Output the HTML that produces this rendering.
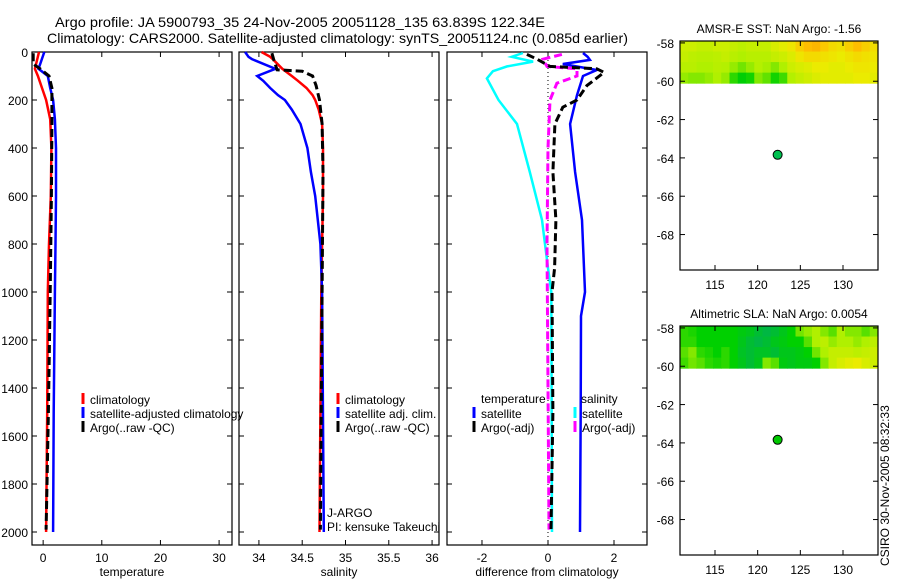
<!DOCTYPE html>
<html><head><meta charset="utf-8"><style>
body{margin:0;background:#fff;}
svg{display:block;font-family:"Liberation Sans",sans-serif;}
text{font-size:12px;fill:#000;}
</style></head><body>
<svg id="fig" width="900" height="580" viewBox="0 0 900 580">
<text x="55" y="27" textLength="490" lengthAdjust="spacingAndGlyphs" style="font-size:14px">Argo profile: JA 5900793_35 24-Nov-2005 20051128_135 63.839S 122.34E</text>
<text x="47" y="43" textLength="581" lengthAdjust="spacingAndGlyphs" style="font-size:14px">Climatology: CARS2000. Satellite-adjusted climatology: synTS_20051124.nc (0.085d earlier)</text>
<g id="plots"></g>
<text transform="translate(889,566) rotate(-90)" style="font-size:12px">CSIRO 30-Nov-2005 08:32:33</text>
</svg>
<script>
// ---- data ----
const tDepth=[0,50,70,100,150,200,280,400,600,800,1000,1500,2000];
const tClim=[-0.7,-1.2,-1.4,-0.9,-0.2,0.5,1.2,1.4,1.3,1.0,0.8,0.7,0.5];
const tSat=[0.2,-0.5,-0.8,0.8,1.2,1.7,2.0,2.2,2.2,2.1,2.0,1.8,1.7];
const aDepth=[5,50,70,100,150,300,600,1000,1500,1990];
const tArgo=[-1.7,-1.7,-0.5,1.0,1.5,1.5,1.4,1.2,0.9,0.5];
const sDepth=[0,20,30,70,100,120,150,180,200,240,300,400,500,600,800,1000,2000];
const sClim=[34.03,34.13,34.16,34.27,34.38,34.45,34.55,34.62,34.65,34.69,34.73,34.74,34.74,34.74,34.73,34.72,34.70];
const sSat=[33.84,33.88,33.92,34.19,33.98,34.05,34.13,34.22,34.30,34.38,34.48,34.56,34.60,34.65,34.71,34.73,34.75];
const saDepth=[5,30,74,80,100,140,200,300,500,1000,1990];
const sArgo=[34.15,34.17,34.21,34.50,34.62,34.66,34.70,34.73,34.74,34.73,34.71];
const dDepth=[4,20,33,50,75,100,180,300,500,700,1000,1100,1500,2000];
const dTSat=[1.06,1.2,1.27,0.45,1.48,1.06,0.88,0.67,0.82,1.03,1.12,1.0,0.99,0.97];
const cDepth=[4,20,40,60,80,110,200,300,500,700,900,1000,2000];
const dSSat=[-0.76,-1.1,-0.45,-1.24,-1.67,-1.85,-1.5,-0.94,-0.55,-0.18,0,0.1,0.12];
const eDepth=[10,30,60,70,85,140,200,230,300,500,700,900,1000,1500,1990];
const dTArgo=[-0.64,-0.33,0.06,1.48,1.7,1.18,0.88,0.45,0.21,0.15,0.24,0.2,0.12,0.15,0.09];
const mDepth=[10,30,60,70,100,130,200,400,800,1990];
const dSArgo=[0.42,-0.15,-0.03,0.88,0.88,0.27,0.06,0,-0.03,0.03];
const sstRows=[
[0.52,0.52,0.5,0.5,0.52,0.52,0.5,0.48,0.5,0.5,0.5,0.55,0.58,0.62,0.7,0.76,0.78,0.72,0.66,0.64,0.7,0.76,0.7,0.65],
[0.5,0.48,0.47,0.47,0.48,0.5,0.47,0.45,0.47,0.47,0.47,0.5,0.52,0.56,0.62,0.66,0.66,0.64,0.62,0.6,0.63,0.66,0.64,0.62],
[0.47,0.47,0.45,0.45,0.47,0.46,0.42,0.38,0.42,0.46,0.44,0.4,0.45,0.52,0.55,0.57,0.6,0.6,0.58,0.58,0.6,0.62,0.62,0.6],
[0.42,0.4,0.4,0.42,0.45,0.42,0.3,0.24,0.27,0.4,0.36,0.27,0.32,0.46,0.5,0.53,0.56,0.58,0.58,0.58,0.58,0.6,0.6,0.58]];
const slaRows=[
[0.3,0.28,0.25,0.25,0.25,0.25,0.25,0.22,0.2,0.15,0.12,0.15,0.2,0.25,0.38,0.42,0.45,0.4,0.35,0.45,0.4,0.4,0.35,0.4],
[0.3,0.3,0.25,0.25,0.25,0.25,0.25,0.2,0.15,0.12,0.15,0.2,0.22,0.25,0.25,0.35,0.45,0.48,0.42,0.45,0.45,0.42,0.45,0.48],
[0.35,0.4,0.3,0.28,0.25,0.3,0.25,0.18,0.15,0.18,0.18,0.15,0.2,0.2,0.22,0.25,0.38,0.45,0.5,0.5,0.5,0.48,0.5,0.52],
[0.32,0.38,0.35,0.3,0.28,0.3,0.25,0.2,0.15,0.2,0.4,0.35,0.22,0.2,0.22,0.22,0.25,0.4,0.5,0.55,0.58,0.6,0.55,0.52]];
const lonTicks=[115,120,125,130];
const latTicks=[-58,-60,-62,-64,-66,-68];
const argoLon=122.34, argoLat=-63.839;

const NS='http://www.w3.org/2000/svg';
const root=document.getElementById('plots');
function mk(tag,attrs,parent){const e=document.createElementNS(NS,tag);for(const k in attrs)e.setAttribute(k,attrs[k]);(parent||root).appendChild(e);return e;}
function txt(x,y,s,anchor,parent){const t=mk('text',{x:x,y:y,'text-anchor':anchor||'start'},parent);t.textContent=s;return t;}
const yD=d=>52+0.24*d;

function panel(name,x0,x1,xmin,xmax,ticks,tickLbl,xlabel,showY){
  const g=mk('g',{});
  
  
  const sx=v=>x0+(v-xmin)/(xmax-xmin)*(x1-x0);
  const r=mk('rect',{x:x0,y:52,width:x1-x0,height:493,fill:'none',stroke:'#000','stroke-width':1.2},g);
  
  
  ticks.forEach((v,i)=>{const x=sx(v);
    mk('line',{x1:x,x2:x,y1:52,y2:57,stroke:'#000'},g);mk('line',{x1:x,x2:x,y1:545,y2:540,stroke:'#000'},g);
    const t=txt(x,562,tickLbl[i],'middle',g);
    
    });
  for(let d=0;d<=2000;d+=200){const y=yD(d);
    mk('line',{x1:x0,x2:x0+5,y1:y,y2:y,stroke:'#000'},g);mk('line',{x1:x1,x2:x1-5,y1:y,y2:y,stroke:'#000'},g);
    if(showY){const t=txt(x0-4,y+5,String(d),'end',g);
      
      }}
  const xl=txt((x0+x1)/2,576,xlabel,'middle',g);
  
  
  return {g,sx};
}
function line(p,vals,depths,color,dash,width,name){
  const pts=vals.map((v,i)=>p.sx(v).toFixed(1)+','+yD(depths[i]).toFixed(1)).join(' ');
  const l=mk('polyline',{points:pts,fill:'none',stroke:color,'stroke-width':width||2.5,'stroke-dasharray':dash||'none'},p.g);
  
  
}
function leg(g,x,y,color,label,name){
  const l=mk('line',{x1:x,x2:x,y1:y-11,y2:y,stroke:color,'stroke-width':3},g);
  
  
  if(label){const t=txt(x+7,y,label,'start',g);
  
  }
}

// panel 1
const p1=panel('temperature-panel',32,232,-1.9,32.2,[0,10,20,30],['0','10','20','30'],'temperature',true);
line(p1,tClim,tDepth,'#f00',null,2.5,'temp-climatology-line');
line(p1,tSat,tDepth,'#00f',null,2.5,'temp-satellite-line');
line(p1,tArgo,aDepth,'#000','8,4',3,'temp-argo-line');
leg(p1.g,83,404,'#f00','climatology','legend-climatology');
leg(p1.g,83,418,'#00f','satellite-adjusted climatology','legend-satellite');
leg(p1.g,83,432,'#000','Argo(..raw -QC)','legend-argo');
// panel 2
const p2=panel('salinity-panel',239,439,33.77,36.08,[34,34.5,35,35.5,36],['34','34.5','35','35.5','36'],'salinity',false);
line(p2,sClim,sDepth,'#f00',null,2.5,'sal-climatology-line');
line(p2,sSat,sDepth,'#00f',null,2.5,'sal-satellite-line');
line(p2,sArgo,saDepth,'#000','8,4',3,'sal-argo-line');
leg(p2.g,338,404,'#f00','climatology','legend-climatology');
leg(p2.g,338,418,'#00f','satellite adj. clim.','legend-satellite');
leg(p2.g,338,432,'#000','Argo(..raw -QC)','legend-argo');
{const t=txt(327,517,'J-ARGO','start',p2.g);
 const u=txt(327,531,'PI: kensuke Takeuchi','start',p2.g);}
// panel 3
const p3=panel('difference-panel',447,647,-3.06,3.0,[-2,0,2],['-2','0','2'],'difference from climatology',false);
{const z=p3.sx(0);const zl=mk('line',{x1:z,x2:z,y1:52,y2:545,stroke:'#000','stroke-dasharray':'1,3'},p3.g);
 
 }
line(p3,dSSat,cDepth,'#0ff',null,2.5,'sal-satellite-diff-line');
line(p3,dTSat,dDepth,'#00f',null,2.5,'temp-satellite-diff-line');
line(p3,dSArgo,mDepth,'#f0f','8,4',3,'sal-argo-diff-line');
line(p3,dTArgo,eDepth,'#000','8,4',3,'temp-argo-diff-line');
{const t=txt(481,403,'temperature','start',p3.g);
 const u=txt(581,403,'salinity','start',p3.g);}
leg(p3.g,474,418,'#00f','satellite','legend-temp-satellite');
leg(p3.g,474,432,'#000','Argo(-adj)','legend-temp-argo');
leg(p3.g,575,418,'#0ff','satellite','legend-sal-satellite');
leg(p3.g,575,432,'#f0f','Argo(-adj)','legend-sal-argo');

// maps
const stops=[[0,[0,160,128]],[0.25,[0,208,0]],[0.45,[176,240,0]],[0.6,[235,235,0]],[0.75,[255,192,0]],[0.9,[240,144,0]]];
function cmap(v){for(let i=1;i<stops.length;i++){if(v<=stops[i][0]){const a=stops[i-1],b=stops[i],f=(v-a[0])/(b[0]-a[0]);
  const c=a[1].map((q,k)=>Math.round(q+(b[1][k]-q)*f));return 'rgb('+c.join(',')+')';}}return 'rgb(240,144,0)';}
function mapPanel(name,top,rows,title,dotColor){
  const g=mk('g',{});
  
  
  const L=680,R=878,B=top+229,lonMin=110.9,lonMax=134.1,latMin=-69.85,latMax=-57.9;
  const sx=v=>L+(v-lonMin)/(lonMax-lonMin)*(R-L);
  const sy=v=>top+(latMax-v)/(latMax-latMin)*(B-top);
  const nc=rows[0].length,nr=rows.length,cw=(R-L)/nc,rh=(sy(-60.1)-top)/nr;
  rows.forEach((row,j)=>row.forEach((v,i)=>{
    const c=mk('rect',{x:(L+i*cw).toFixed(2),y:(top+j*rh).toFixed(2),width:(cw+0.5).toFixed(2),height:(rh+0.5).toFixed(2),fill:cmap(v)},g);
    
    }));
  const fr=mk('rect',{x:L,y:top,width:R-L,height:B-top,fill:'none',stroke:'#000','stroke-width':1.2},g);
  
  
  lonTicks.forEach(v=>{const x=sx(v);mk('line',{x1:x,x2:x,y1:top,y2:top+5,stroke:'#000'},g);mk('line',{x1:x,x2:x,y1:B,y2:B-5,stroke:'#000'},g);
    const t=txt(x,B+19,String(v),'middle',g);});
  latTicks.forEach(v=>{const y=sy(v);mk('line',{x1:L,x2:L+5,y1:y,y2:y,stroke:'#000'},g);mk('line',{x1:R,x2:R-5,y1:y,y2:y,stroke:'#000'},g);
    const t=txt(L-6,y+5,String(v),'end',g);});
  const d=mk('circle',{cx:sx(argoLon),cy:sy(argoLat),r:4.5,fill:dotColor,stroke:'#000','stroke-width':1},g);
  
  
  const t=txt((L+R)/2,top-8,title,'middle',g);
  
  
}
mapPanel('sst-map',41,sstRows,'AMSR-E SST: NaN Argo: -1.56','#00c050');
mapPanel('sla-map',326,slaRows,'Altimetric SLA: NaN Argo: 0.0054','#00c800');
</script>
</body></html>
